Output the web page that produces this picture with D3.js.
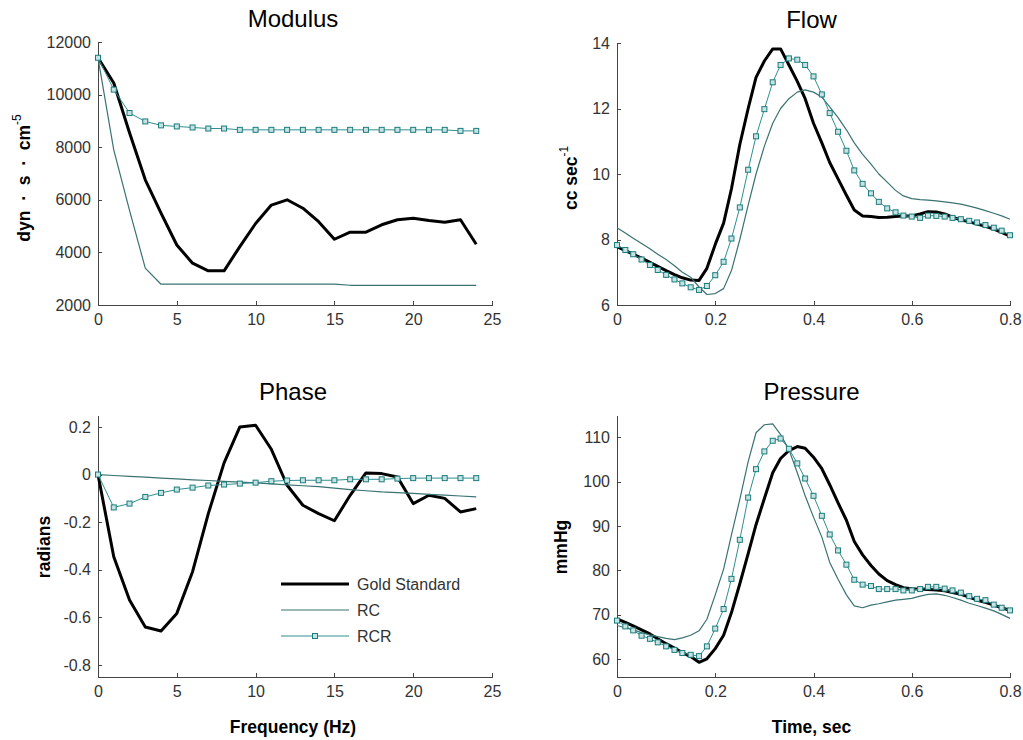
<!DOCTYPE html>
<html lang="en">
  <head>
    <meta charset="UTF-8" />
    <title>Modulus, Flow, Phase, Pressure</title>
    <style>
      body { margin: 0; background: #fff; }
      svg { font-family: 'Liberation Sans', Arial, sans-serif; }
      .axis path, .axis line { fill: none; stroke: #444; shape-rendering: crispEdges; }
      .axis text { font-family: 'Liberation Sans', Arial, sans-serif; font-size: 16px; fill: #333; }
      .title { font-size: 24px; fill: #000; text-anchor: middle; }
      .label { font-size: 17.5px; font-weight: bold; fill: #000; text-anchor: middle; }
      .legend text { font-size: 16px; fill: #333; }
    </style>
    <script src="https://cdn.jsdelivr.net/npm/d3@7"></script>
  </head>
  <body>
    <svg width="1023" height="740"></svg>
    <script>
      // frequency domain (Hz)
      var freq = [0, 1, 2, 3, 4, 5, 6, 7, 8, 9, 10, 11, 12, 13, 14, 15, 16, 17, 18, 19, 20, 21, 22, 23, 24]
      var modGold = [11400, 10440, 8550, 6760, 5490, 4280, 3590, 3300, 3300, 4220, 5100, 5800, 6000, 5680, 5170, 4500,
        4770, 4770, 5050, 5240, 5300, 5210, 5150, 5240, 4310]
      var modRC = [11400, 7900, 5600, 3400, 2790, 2790, 2790, 2790, 2790, 2790, 2790, 2790, 2790, 2790, 2790, 2790,
        2750, 2750, 2750, 2750, 2750, 2750, 2750, 2750, 2750]
      var modRCR = [11400, 10190, 9300, 8980, 8830, 8790, 8750, 8710, 8710, 8660, 8660, 8660, 8660, 8660, 8660, 8660,
        8660, 8660, 8660, 8660, 8660, 8660, 8660, 8620, 8620]
      var phGold = [0, -0.345, -0.527, -0.64, -0.657, -0.583, -0.408, -0.164, 0.049, 0.2, 0.207, 0.106, -0.045, -0.129,
        -0.164, -0.194, -0.087, 0.007, 0.004, -0.01, -0.122, -0.087, -0.1, -0.157, -0.143]
      var phRC = [0, -0.004, -0.008, -0.011, -0.015, -0.018, -0.022, -0.025, -0.029, -0.032, -0.035, -0.039, -0.043,
        -0.047, -0.051, -0.057, -0.063, -0.068, -0.073, -0.076, -0.079, -0.083, -0.086, -0.09, -0.094]
      var phRCR = [0, -0.138, -0.122, -0.094, -0.077, -0.063, -0.055, -0.046, -0.042, -0.038, -0.034, -0.028, -0.025,
        -0.024, -0.024, -0.024, -0.02, -0.02, -0.02, -0.017, -0.015, -0.015, -0.015, -0.015, -0.015]

      // time domain (sec)
      var time = [0, 0.017, 0.033, 0.05, 0.067, 0.083, 0.1, 0.117, 0.133, 0.15, 0.167, 0.183, 0.2, 0.217, 0.233, 0.25,
        0.267, 0.283, 0.3, 0.317, 0.333, 0.35, 0.367, 0.383, 0.4, 0.417, 0.433, 0.45, 0.467, 0.483, 0.5, 0.517, 0.533,
        0.55, 0.567, 0.583, 0.6, 0.617, 0.633, 0.65, 0.667, 0.683, 0.7, 0.717, 0.733, 0.75, 0.767, 0.783, 0.8]
      var flowGold = [7.78, 7.66, 7.55, 7.43, 7.3, 7.18, 7.05, 6.93, 6.83, 6.76, 6.75, 7.12, 7.85, 8.5, 9.55, 10.9, 12.0,
        12.95, 13.45, 13.82, 13.82, 13.33, 12.83, 12.3, 11.55, 10.95, 10.35, 9.85, 9.35, 8.9, 8.72, 8.7, 8.67, 8.68,
        8.7, 8.72, 8.72, 8.78, 8.85, 8.84, 8.78, 8.68, 8.6, 8.54, 8.47, 8.4, 8.32, 8.22, 8.1]
      var flowRC = [8.36, 8.2, 8.04, 7.88, 7.72, 7.55, 7.39, 7.2, 7.0, 6.85, 6.55, 6.32, 6.35, 6.5, 7.05, 8.0, 9.05, 10.0,
        10.85, 11.55, 12.0, 12.3, 12.5, 12.57, 12.5, 12.35, 12.05, 11.72, 11.35, 10.95, 10.6, 10.3, 10.0, 9.75, 9.5,
        9.33, 9.25, 9.22, 9.2, 9.18, 9.15, 9.12, 9.08, 9.02, 8.96, 8.88, 8.8, 8.72, 8.62]
      var flowRCR = [7.83, 7.68, 7.55, 7.39, 7.22, 7.07, 6.92, 6.78, 6.66, 6.54, 6.46, 6.58, 6.91, 7.32, 8.03, 8.98, 10.13,
        11.15, 11.98, 12.8, 13.33, 13.53, 13.49, 13.33, 12.98, 12.43, 11.86, 11.29, 10.71, 10.11, 9.7, 9.41, 9.15, 8.95,
        8.83, 8.73, 8.7, 8.66, 8.73, 8.72, 8.7, 8.66, 8.62, 8.57, 8.52, 8.44, 8.36, 8.27, 8.13]
      var presGold = [69.1, 68.3, 67.5, 66.6, 65.7, 64.6, 63.5, 62.5, 61.5, 60.6, 59.3, 60.1, 62.4, 65.4, 70.5, 77.0, 83.8,
        90.3, 96.2, 102.0, 105.2, 107.0, 107.9, 107.5, 105.5, 102.9, 99.3, 95.2, 91.3, 86.5, 83.5, 81.1, 79.2, 77.7,
        76.8, 76.1, 75.9, 75.8, 75.7, 75.6, 75.4, 75.0, 74.6, 74.0, 73.3, 72.8, 72.2, 71.6, 71.0]
      var presRC = [67.6, 67.1, 66.6, 66.0, 65.5, 65.1, 64.7, 64.4, 64.8, 65.4, 66.4, 69.0, 74.5, 80.3, 88.0, 96.0, 104.5,
        111.0, 112.8, 113.0, 110.6, 107.2, 102.0, 96.8, 92.0, 87.5, 81.8, 78.0, 74.5, 72.0, 71.6, 72.2, 72.5, 72.9,
        73.3, 73.5, 73.7, 74.2, 74.6, 74.7, 74.4, 73.9, 73.3, 72.6, 72.1, 71.5, 70.9, 70.1, 69.2]
      var presRCR = [68.7, 67.4, 66.5, 65.3, 64.6, 63.8, 62.9, 62.1, 61.4, 61.0, 60.7, 62.9, 66.9, 71.3, 78.1, 86.9, 96.4,
        102.8, 106.8, 109.2, 109.7, 107.4, 104.1, 100.7, 96.8, 92.3, 88.1, 84.5, 81.3, 77.9, 76.8, 76.5, 75.8, 75.8,
        75.8, 75.5, 75.5, 75.8, 76.3, 76.3, 75.9, 75.5, 75.0, 74.2, 73.6, 73.3, 72.3, 71.6, 71.0]

      var seriesNames = ['Gold Standard', 'RC', 'RCR']
      var styles = {
        'Gold Standard': { stroke: '#000', width: 3, marker: false },
        RC: { stroke: '#3b7272', width: 1.2, marker: false },
        RCR: { stroke: '#2f8f8f', width: 1, marker: true }
      }

      var svg = d3.select('svg')

      function panel(opt) {
        var x = d3.scaleLinear().domain(opt.xDomain).range([opt.left, opt.right])
        var y = d3.scaleLinear().domain(opt.yDomain).range([opt.bottom, opt.top])
        var g = svg.append('g')

        g.append('g')
          .attr('class', 'axis')
          .attr('transform', `translate(0, ${opt.bottom})`)
          .call(d3.axisBottom(x).tickValues(opt.xTicks).tickSizeInner(-4).tickSizeOuter(0).tickPadding(9)
            .tickFormat(d3.format('')))
        g.append('g')
          .attr('class', 'axis')
          .attr('transform', `translate(${opt.left}, 0)`)
          .call(d3.axisLeft(y).tickValues(opt.yTicks).tickSizeInner(-4).tickSizeOuter(0).tickPadding(7)
            .tickFormat(function(d) { return String(+d.toFixed(2)) }))

        var line = d3.line()
          .x(function(d) { return x(d[0]) })
          .y(function(d) { return y(d[1]) })

        opt.series.forEach(function(vals, i) {
          var st = styles[seriesNames[i]]
          var pts = opt.xs.map(function(v, j) { return [v, vals[j]] })
          g.append('path')
            .datum(pts)
            .attr('fill', 'none')
            .attr('stroke', st.stroke)
            .attr('stroke-width', st.width)
            .attr('stroke-linejoin', 'round')
            .attr('d', line)
          if (st.marker) {
            g.selectAll(null)
              .data(pts)
              .enter()
              .append('rect')
              .attr('x', function(d) { return x(d[0]) - 2.5 })
              .attr('y', function(d) { return y(d[1]) - 2.5 })
              .attr('width', 5)
              .attr('height', 5)
              .attr('fill', '#c6e2e2')
              .attr('stroke', '#1b7c7c')
              .attr('stroke-width', 1)
          }
        })

        var cx = (opt.left + opt.right) / 2 - 2
        g.append('text').attr('class', 'title').attr('x', cx).attr('y', opt.top - 15).text(opt.title)
        if (opt.xLabel) {
          g.append('text').attr('class', 'label').attr('x', cx).attr('y', opt.bottom + 56).text(opt.xLabel)
        }
        var yl = g.append('text')
          .attr('class', 'label')
          .attr('transform', `translate(${opt.yLabelX}, ${opt.yLabelY}) rotate(-90)`)
        opt.yLabel(yl)
        return { x: x, y: y, g: g }
      }

      panel({
        title: 'Modulus', left: 98, right: 492, top: 42, bottom: 305,
        xDomain: [0, 25], yDomain: [2000, 12000],
        xTicks: [0, 5, 10, 15, 20, 25], yTicks: [2000, 4000, 6000, 8000, 10000, 12000],
        xs: freq, series: [modGold, modRC, modRCR], yLabelX: 30, yLabelY: 178,
        yLabel: function(t) {
          t.text('dyn\u00a0\u00a0·\u00a0\u00a0s\u00a0\u00a0·\u00a0\u00a0cm')
          t.append('tspan').attr('dy', -9).attr('font-size', 12).attr('font-weight', 'normal').text('-5')
        }
      })

      panel({
        title: 'Flow', left: 617, right: 1010, top: 43, bottom: 305,
        xDomain: [0, 0.8], yDomain: [6, 14],
        xTicks: [0, 0.2, 0.4, 0.6, 0.8], yTicks: [6, 8, 10, 12, 14],
        xs: time, series: [flowGold, flowRC, flowRCR], yLabelX: 577, yLabelY: 178,
        yLabel: function(t) {
          t.text('cc sec')
          t.append('tspan').attr('dy', -9).attr('font-size', 12).attr('font-weight', 'normal').text('-1')
        }
      })

      panel({
        title: 'Phase', left: 98, right: 492, top: 415, bottom: 677,
        xDomain: [0, 25], yDomain: [-0.85, 0.25],
        xTicks: [0, 5, 10, 15, 20, 25], yTicks: [-0.8, -0.6, -0.4, -0.2, 0, 0.2],
        xs: freq, series: [phGold, phRC, phRCR], yLabelX: 50, yLabelY: 547, xLabel: 'Frequency (Hz)',
        yLabel: function(t) { t.text('radians') }
      })

      panel({
        title: 'Pressure', left: 617, right: 1010, top: 415, bottom: 677,
        xDomain: [0, 0.8], yDomain: [56, 115],
        xTicks: [0, 0.2, 0.4, 0.6, 0.8], yTicks: [60, 70, 80, 90, 100, 110],
        xs: time, series: [presGold, presRC, presRCR], yLabelX: 567, yLabelY: 547, xLabel: 'Time, sec',
        yLabel: function(t) { t.text('mmHg') }
      })

      // legend inside the phase panel
      var legend = svg.append('g').attr('class', 'legend').attr('transform', 'translate(281, 584)')
      seriesNames.forEach(function(name, i) {
        var st = styles[name]
        var row = legend.append('g').attr('transform', `translate(0, ${i * 26})`)
        row.append('line').attr('x1', 0).attr('x2', 68).attr('y1', 0).attr('y2', 0)
          .attr('stroke', st.stroke).attr('stroke-width', st.width)
        if (st.marker) {
          row.append('rect').attr('x', 31.5).attr('y', -2.5).attr('width', 5).attr('height', 5)
            .attr('fill', '#c6e2e2').attr('stroke', '#1b7c7c')
        }
        row.append('text').attr('x', 76).attr('y', 6).text(name)
      })
    </script>
  </body>
</html>
